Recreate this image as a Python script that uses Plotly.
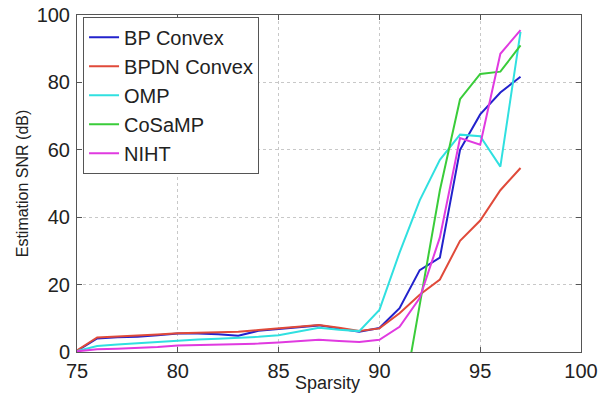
import plotly.graph_objects as go

sparsity = list(range(75, 98))

bp_convex = [0.3, 4.0, 4.4, 4.5, 5.0, 5.5, 5.5, 5.3, 4.8, 6.3, 6.8, 7.4, 7.9, 7.0, 6.0,
             7.1, 13.0, 24.3, 28.0, 60.0, 70.5, 77.0, 81.7]
bpdn_convex = [0.5, 4.3, 4.6, 4.8, 5.2, 5.6, 5.7, 5.8, 6.0, 6.5, 7.0, 7.5, 8.0, 7.2, 6.2,
               7.0, 11.5, 17.0, 21.5, 33.0, 39.0, 48.0, 54.6]
omp = [0.3, 1.8, 2.2, 2.6, 3.0, 3.5, 3.7, 3.9, 4.1, 4.5, 5.0, 6.0, 7.2, 6.6, 6.2,
       12.5, 29.5, 45.0, 57.0, 64.5, 64.0, 55.0, 95.0]
cosamp = [-25, -25, -25, -25, -25, -25, -25, -25, -25, -25, -25, -25, -25, -25, -25,
          -25, -20.0, 14.0, 48.0, 75.0, 82.5, 83.2, 91.0]
niht = [0.2, 0.8, 1.0, 1.2, 1.5, 1.9, 2.0, 2.1, 2.3, 2.5, 2.8, 3.2, 3.6, 3.3, 3.0,
        3.6, 7.5, 16.0, 34.0, 63.5, 61.5, 88.5, 95.5]

series = [
    ("BP Convex", bp_convex, "#2222cc"),
    ("BPDN Convex", bpdn_convex, "#e04a3a"),
    ("OMP", omp, "#30e0e0"),
    ("CoSaMP", cosamp, "#3acc3a"),
    ("NIHT", niht, "#e03ae0"),
]

fig = go.Figure()
for i, (name, vals, color) in enumerate(series):
    fig.add_trace(go.Scatter(x=sparsity, y=vals, mode="lines", name=name,
                             legendgroup=f"g{i}",
                             line=dict(color=color, width=2)))

font_family = "Liberation Sans, Arial, sans-serif"
axis_common = dict(
    showline=True, linecolor="#555", linewidth=1, mirror="allticks",
    ticks="inside", ticklen=5, tickcolor="#555",
    showgrid=True, gridcolor="#c8c8c8", griddash="dot", gridwidth=1,
    zeroline=False, automargin=False,
    tickfont=dict(size=20, color="#222", family=font_family),
)

fig.update_layout(
    width=601, height=401,
    margin=dict(l=77, r=20, t=15, b=49),
    paper_bgcolor="white", plot_bgcolor="white",
    font=dict(family=font_family, color="#222"),
    xaxis=dict(range=[75, 100], tickvals=[75, 80, 85, 90, 95, 100],
               ticklabelstandoff=1,
               **axis_common),
    yaxis=dict(range=[0, 100], tickvals=[0, 20, 40, 60, 80, 100],
               ticklabelstandoff=2,
               title=dict(text="Estimation SNR (dB)", font=dict(size=16), standoff=4),
               **axis_common),
    legend=dict(x=0.012, y=0.995, xanchor="left", yanchor="top",
                bgcolor="white", bordercolor="#555", borderwidth=1,
                font=dict(size=20, color="#222", family=font_family),
                tracegroupgap=0, itemwidth=30),
    showlegend=True,
    annotations=[dict(text="Sparsity", xref="paper", yref="paper", x=0.497, y=-0.092,
                      xanchor="center", yanchor="middle", showarrow=False,
                      font=dict(size=18, color="#222", family=font_family))],
)

fig.write_html("out.html")
